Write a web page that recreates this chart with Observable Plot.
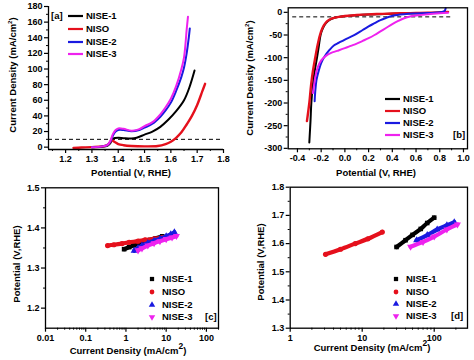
<!DOCTYPE html>
<html><head><meta charset="utf-8">
<script src="https://cdn.jsdelivr.net/npm/d3@7"></script>
<script src="https://cdn.jsdelivr.net/npm/@observablehq/plot@0.6"></script>
<style>
body{margin:0;background:#fff;}
#root{position:relative;width:474px;height:360px;overflow:hidden;background:#fff;font-family:"Liberation Sans",Arial,sans-serif;font-weight:bold;color:#000;}
.t{position:absolute;white-space:nowrap;font-size:9.5px;line-height:1;}
.t sup{font-size:6px;vertical-align:4px;line-height:0;}
.t sup.big{font-size:8.5px;vertical-align:5px;}
</style></head>
<body><div id="root"></div>
<script>
// ---------- data ----------
const SERIES = ["NISE-1", "NISO", "NISE-2", "NISE-3"];

// Panel [a]: Potential (V, RHE) vs Current Density (mA/cm2)
const a_NISE1 = [[1.30,0],[1.34,0.5],[1.36,2],[1.37,5],[1.375,9],[1.38,11],[1.40,12],[1.42,11.5],[1.45,11],[1.47,12],[1.50,16],[1.53,20],[1.56,26],[1.59,35],[1.62,46],[1.65,60],[1.67,76],[1.69,98]];
const a_NISO  = [[1.23,-1],[1.26,-0.5],[1.30,0],[1.34,1],[1.36,3],[1.37,7],[1.375,9],[1.38,8],[1.39,6],[1.40,4],[1.42,2.5],[1.45,1.5],[1.50,1],[1.55,1.5],[1.58,4],[1.60,7],[1.62,12],[1.64,19],[1.66,29],[1.68,40],[1.70,54],[1.72,72],[1.73,81]];
const a_NISE2 = [[1.30,0],[1.34,1],[1.36,3],[1.37,7],[1.38,15],[1.39,20],[1.40,22],[1.42,22],[1.45,20.5],[1.48,22],[1.50,25],[1.53,30],[1.56,39],[1.58,47],[1.60,57],[1.62,72],[1.64,90],[1.65,102],[1.66,120],[1.668,140],[1.672,152]];
const a_NISE3 = [[1.30,0],[1.34,1],[1.36,3],[1.37,8],[1.38,17],[1.39,22],[1.40,24],[1.42,23.5],[1.45,21],[1.48,23],[1.50,27],[1.53,32],[1.56,42],[1.58,51],[1.60,62],[1.62,78],[1.64,100],[1.65,115],[1.655,130],[1.66,150],[1.665,167]];
const a_ref = [10];

// Panel [b]
const b_NISE1 = [[-0.30,-287],[-0.29,-240],[-0.283,-200],[-0.27,-160],[-0.255,-130],[-0.235,-100],[-0.22,-75],[-0.205,-50],[-0.185,-35],[-0.16,-24],[-0.13,-17],[-0.10,-13],[-0.05,-10],[0,-8.5],[0.1,-6.5],[0.2,-5],[0.3,-4],[0.4,-3],[0.5,-2.5],[0.6,-2],[0.7,-1.5],[0.8,-0.5],[0.85,1]];
const b_NISO  = [[-0.32,-240],[-0.30,-200],[-0.285,-160],[-0.27,-130],[-0.25,-100],[-0.23,-72],[-0.21,-50],[-0.19,-35],[-0.165,-24],[-0.135,-17],[-0.10,-13],[-0.05,-10],[0,-8],[0.1,-6],[0.2,-4.5],[0.3,-3.5],[0.4,-2.5],[0.5,-2],[0.6,-1.5],[0.7,-1],[0.8,0],[0.87,1]];
const b_NISE2 = [[-0.255,-196],[-0.25,-175],[-0.24,-150],[-0.22,-128],[-0.20,-112],[-0.17,-97],[-0.13,-83],[-0.093,-73],[-0.05,-67],[0,-60],[0.074,-51],[0.15,-39],[0.20,-31],[0.25,-24],[0.30,-17],[0.35,-12],[0.41,-7],[0.5,-4],[0.6,-2.5],[0.7,-1.5],[0.8,0],[0.84,3],[0.85,9]];
const b_NISE3 = [[-0.27,-178],[-0.26,-160],[-0.25,-143],[-0.23,-122],[-0.20,-106],[-0.16,-96],[-0.12,-90],[-0.065,-85],[0,-79],[0.05,-74],[0.1,-69],[0.15,-63],[0.2,-57],[0.25,-50],[0.30,-42],[0.35,-34],[0.40,-26],[0.45,-19],[0.5,-13],[0.55,-9],[0.6,-7],[0.7,-4],[0.8,-2],[0.87,-1]];
const b_ref = [-10];
const b_refSpan = [-0.44, 0.9];

// Panel [c]: Tafel, current density (mA/cm2) vs potential (V, RHE)
const c_NISE1 = [[0.9,1.347],[1.2,1.352],[1.6,1.357],[2.2,1.362],[3,1.366],[4,1.370],[5.5,1.374],[8,1.379]];
const c_NISO  = [[0.35,1.356],[0.5,1.358],[0.8,1.361],[1.2,1.364],[2,1.367],[3,1.370],[5,1.373],[8,1.376],[10,1.377]];
const c_NISE2 = [[1.6,1.343],[2,1.350],[2.5,1.356],[3.5,1.362],[5,1.368],[7,1.373],[10,1.379],[13,1.384],[16,1.389]];
const c_NISE3 = [[2,1.344],[2.5,1.349],[3.5,1.356],[5,1.362],[7,1.367],[10,1.372],[14,1.376],[18,1.380]];

// Panel [d]
const d_NISE1 = [[30,1.588],[40,1.612],[50,1.631],[65,1.652],[80,1.673],[100,1.692]];
const d_NISO  = [[3.1,1.562],[5,1.580],[8,1.600],[12,1.617],[19,1.641]];
const d_NISE2 = [[57,1.612],[80,1.630],[110,1.650],[150,1.665],[190,1.676]];
const d_NISE3 = [[47,1.589],[70,1.606],[100,1.625],[150,1.650],[210,1.668]];

// tick values / labels
const aTicksX = [1.2,1.3,1.4,1.5,1.6,1.7,1.8];
const aMinorX = [1.15,1.25,1.35,1.45,1.55,1.65,1.75];
const aTicksY = [0,20,40,60,80,100,120,140,160,180];
const aMinorY = [10,30,50,70,90,110,130,150,170];
const bTicksX = [-0.4,-0.2,0,0.2,0.4,0.6,0.8,1.0];
const bMinorX = [-0.3,-0.1,0.1,0.3,0.5,0.7,0.9];
const bTicksY = [0,-50,-100,-150,-200,-250,-300];
const bMinorY = [-25,-75,-125,-175,-225,-275];
const cTicksX = [0.01,0.1,1,10,100];
const cMinorX = [0.02,0.03,0.04,0.05,0.06,0.07,0.08,0.09,0.2,0.3,0.4,0.5,0.6,0.7,0.8,0.9,2,3,4,5,6,7,8,9,20,30,40,50,60,70,80,90,200];
const cTicksY = [1.2,1.3,1.4,1.5];
const cMinorY = [1.25,1.35,1.45];
const dTicksX = [1,10,100];
const dMinorX = [2,3,4,5,6,7,8,9,20,30,40,50,60,70,80,90,200];
const dTicksY = [1.3,1.4,1.5,1.6,1.7,1.8];
const dMinorY = [1.35,1.45,1.55,1.65,1.75];

// ---------- styles ----------
const COLORS = {"NISE-1":"#000000","NISO":"#e5101c","NISE-2":"#1a1ae0","NISE-3":"#ee22ee"};
const triDown = {draw(ctx, size){const s3=Math.sqrt(3);const y=-Math.sqrt(size/(s3*3));ctx.moveTo(0,-y*2);ctx.lineTo(-s3*y,y);ctx.lineTo(s3*y,y);ctx.closePath();}};
const SYMBOLS = {"NISE-1":"square","NISO":"circle","NISE-2":"triangle","NISE-3":triDown};
const D3SYM = {"NISE-1":d3.symbolSquare,"NISO":d3.symbolCircle,"NISE-2":d3.symbolTriangle,"NISE-3":triDown};

const rows = (pairs) => pairs.map(([x,y]) => ({x,y}));
const root = document.getElementById("root");

function axes(tx, mx, ty, my, fx, fy) {
  return [
    Plot.axisX(tx, {tickSize: 4, tickPadding: 2, tickFormat: fx, label: null, strokeWidth: 1.2}),
    Plot.axisX(mx, {tickSize: 2, tickFormat: () => "", label: null, strokeWidth: 1}),
    Plot.axisY(ty, {tickSize: 4, tickPadding: 2, tickFormat: fy, label: null, strokeWidth: 1.2}),
    Plot.axisY(my, {tickSize: 2, tickFormat: () => "", label: null, strokeWidth: 1})
  ];
}

function panel(cfg) {
  const p = Plot.plot({
    width: 237, height: 180,
    marginLeft: cfg.l, marginRight: 237 - cfg.r, marginTop: cfg.t, marginBottom: 180 - cfg.b,
    x: {type: cfg.xType || "linear", domain: cfg.xd},
    y: {domain: cfg.yd},
    style: {fontFamily: '"Liberation Sans", Arial, sans-serif', fontSize: "9px", fontWeight: "bold", color: "#000", background: "transparent", overflow: "visible"},
    marks: cfg.marks
  });
  p.style.position = "absolute";
  p.style.left = cfg.ox + "px";
  p.style.top = cfg.oy + "px";
  root.appendChild(p);
}

const lineMarks = (list) => list.map(([data, s]) => Plot.line(rows(data), {x: "x", y: "y", stroke: COLORS[s], strokeWidth: s === "NISO" ? 2.4 : 2, curve: "catmull-rom"}));
const dotMarks = (list) => list.flatMap(([data, s]) => [
  Plot.line(rows(data), {x: "x", y: "y", stroke: COLORS[s], strokeWidth: 4.2, curve: "catmull-rom"}),
  Plot.dot(rows(data), {x: "x", y: "y", fill: COLORS[s], symbol: SYMBOLS[s], r: 2.6})
]);

// [a]
panel({ox: 0, oy: 0, l: 48, r: 223, t: 6, b: 149, xd: [1.135, 1.8], yd: [-3, 180],
  marks: [
    Plot.ruleY(a_ref, {stroke: "#000", strokeDasharray: "4,3", strokeWidth: 1}),
    ...lineMarks([[a_NISE1,"NISE-1"],[a_NISO,"NISO"],[a_NISE2,"NISE-2"],[a_NISE3,"NISE-3"]]),
    Plot.ruleX([1.135], {stroke: "#000", strokeWidth: 1.3}),
    Plot.ruleY([-3], {stroke: "#000", strokeWidth: 1.3}),
    ...axes(aTicksX, aMinorX, aTicksY, aMinorY, d => d.toFixed(1), d => String(d))
  ]});

// [b]
panel({ox: 237, oy: 0, l: 50.7, r: 230, t: 7.3, b: 148.3, xd: [-0.478, 1.034], yd: [-301, 10],
  marks: [
    Plot.ruleY(b_ref, {x1: b_refSpan[0], x2: b_refSpan[1], stroke: "#000", strokeDasharray: "4,3", strokeWidth: 1}),
    ...lineMarks([[b_NISE1,"NISE-1"],[b_NISO,"NISO"],[b_NISE2,"NISE-2"],[b_NISE3,"NISE-3"]]),
    Plot.frame({stroke: "#000", strokeWidth: 1.3}),
    ...axes(bTicksX, bMinorX, bTicksY, bMinorY, d => d.toFixed(1), d => String(d))
  ]});

// [c]
panel({ox: 0, oy: 180, l: 45, r: 218, t: 7.3, b: 147.7, xType: "log", xd: [0.01, 200], yd: [1.15, 1.5],
  marks: [
    ...dotMarks([[c_NISE1,"NISE-1"],[c_NISO,"NISO"],[c_NISE2,"NISE-2"],[c_NISE3,"NISE-3"]]),
    Plot.frame({stroke: "#000", strokeWidth: 1.3}),
    ...axes(cTicksX, cMinorX, cTicksY, cMinorY, d => String(d), d => d.toFixed(1))
  ]});

// [d]
panel({ox: 237, oy: 180, l: 52.7, r: 230, t: 6.7, b: 147.7, xType: "log", xd: [1, 290], yd: [1.3, 1.8],
  marks: [
    ...dotMarks([[d_NISE1,"NISE-1"],[d_NISO,"NISO"],[d_NISE2,"NISE-2"],[d_NISE3,"NISE-3"]]),
    Plot.frame({stroke: "#000", strokeWidth: 1.3}),
    ...axes(dTicksX, dMinorX, dTicksY, dMinorY, d => String(d), d => d.toFixed(1))
  ]});

// ---------- text overlays ----------
function addText(html, x, y, mode) {
  const d = document.createElement("div");
  d.className = "t";
  d.innerHTML = html;
  d.style.left = x + "px"; d.style.top = y + "px";
  d.style.transform = mode === "rot" ? "translate(-50%,-50%) rotate(-90deg)" : mode === "center" ? "translate(-50%,-50%)" : "translate(0,-50%)";
  root.appendChild(d);
}
function addSwatch(s, kind, x, y) {
  const svg = d3.create("svg").attr("width", 18).attr("height", 10)
    .style("position", "absolute").style("left", x + "px").style("top", (y - 5) + "px").style("overflow", "visible");
  if (kind === "line") svg.append("line").attr("x1", 0).attr("x2", 15).attr("y1", 5).attr("y2", 5).attr("stroke", COLORS[s]).attr("stroke-width", 2.2);
  else svg.append("path").attr("transform", "translate(4,5)").attr("d", d3.symbol(D3SYM[s], 18)()).attr("fill", COLORS[s]);
  root.appendChild(svg.node());
}

// axis titles
addText("Potential (V, RHE)", 131, 173, "center");
addText("Potential (V, RHE)", 376, 173, "center");
addText("Current Density (mA/cm<sup>2</sup>)", 13, 75, "rot");
addText("Current Density (mA/cm<sup>2</sup>)", 250, 78, "rot");
addText("Current Density (mA/cm<sup class='big'>2</sup>)", 128, 351, "center");
addText("Current Density (mA/cm<sup class='big'>2</sup>)", 372, 348, "center");
addText("Potential (V,RHE)", 17, 264, "rot");
addText("Potential (V,RHE)", 261, 262, "rot");

// legends
const aRows = [16, 29, 42, 54];
addText("[a]", 51, 16);
SERIES.forEach((s, i) => { addSwatch(s, "line", 68, aRows[i]); addText(s, 86, aRows[i]); });
const bRows = [99, 111, 123, 135];
SERIES.forEach((s, i) => { addSwatch(s, "line", 385, bRows[i]); addText(s, 403, bRows[i]); });
addText("[b]", 453, 135);
const cRows = [279, 292, 305, 317];
SERIES.forEach((s, i) => { addSwatch(s, "sym", 148, cRows[i]); addText(s, 162, cRows[i]); });
addText("[c]", 205, 317);
const dRows = [279, 292, 304, 316];
SERIES.forEach((s, i) => { addSwatch(s, "sym", 392, dRows[i]); addText(s, 406, dRows[i]); });
addText("[d]", 451, 316);
</script>
</body></html>
